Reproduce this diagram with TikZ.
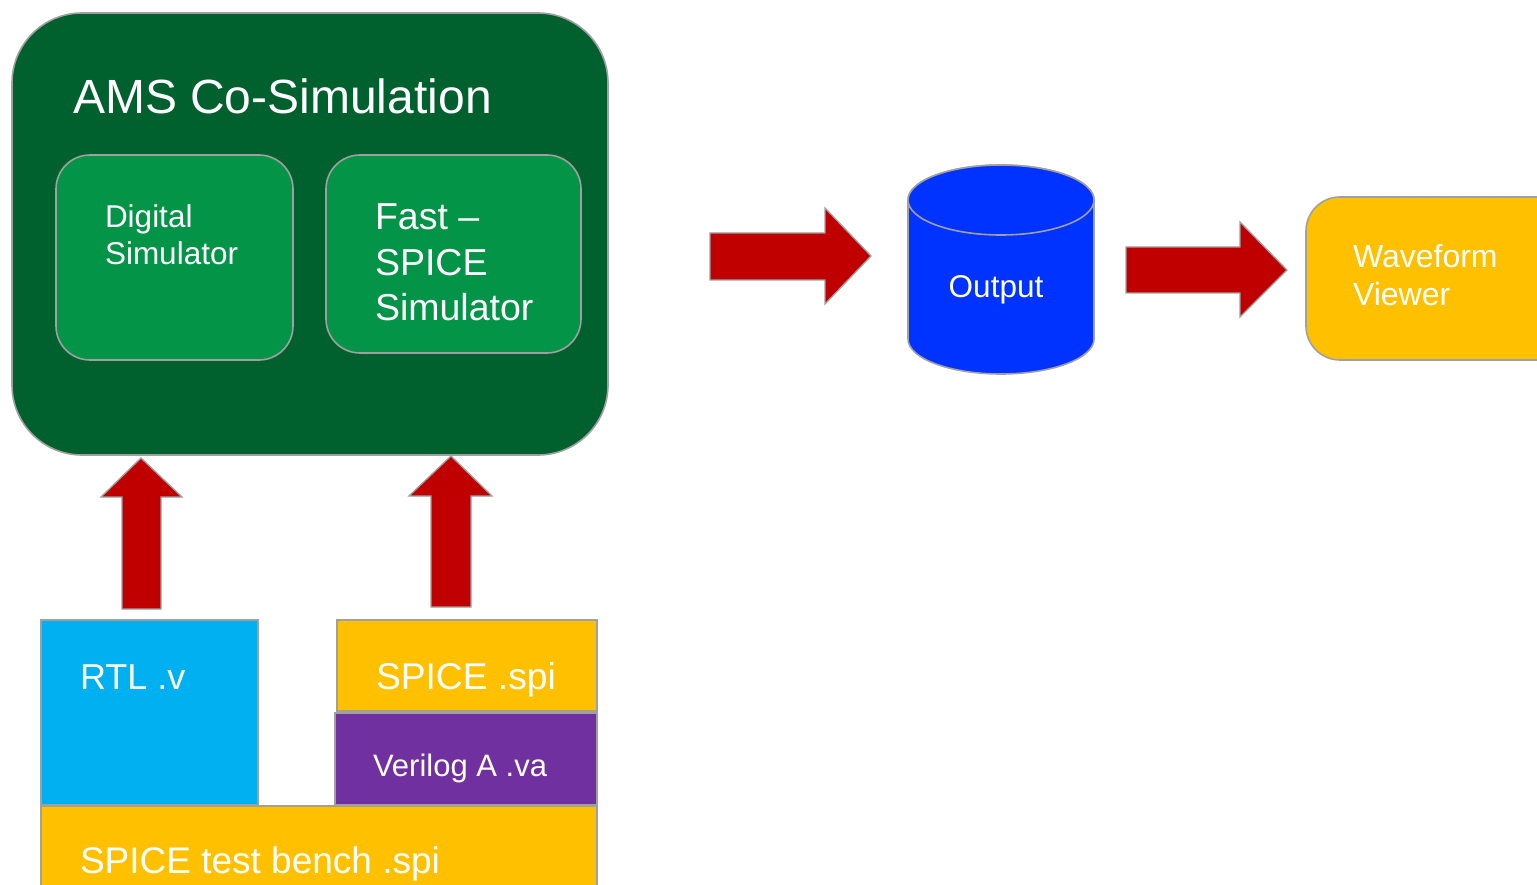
\documentclass[tikz,border=0pt]{standalone}
\usepackage{fontspec}
\setmainfont{Liberation Sans}
\definecolor{dkgreen}{RGB}{0,96,46}
\definecolor{ingreen}{RGB}{4,148,72}
\definecolor{bordergray}{RGB}{160,160,160}
\definecolor{arrred}{RGB}{192,0,0}
\definecolor{cylblue}{RGB}{0,51,255}
\definecolor{gold}{RGB}{255,192,0}
\definecolor{cyanbox}{RGB}{0,176,240}
\definecolor{purplebox}{RGB}{112,48,160}
\begin{document}
\begin{tikzpicture}[x=1pt,y=-1pt,
  edge/.style={draw=bordergray, line width=1.6pt},
  panel/.style={edge, anchor=north west, inner sep=0pt, outer sep=0pt},
  lbl/.style={text=white, anchor=base west, inner sep=0pt, outer sep=0pt, align=left},
  blockarrow/.style={fill=arrred, draw=bordergray, line width=1.3pt, line join=miter}]
\useasboundingbox (0,0) rectangle (1537,885);
\clip (0,0) rectangle (1537,885);
% main AMS box
\node[panel, fill=dkgreen, rounded corners=70pt, minimum width=596pt, minimum height=442pt] (ams) at (12,13) {};
\node[lbl, font=\fontsize{48}{56}\selectfont] (amst) at (73,114) {AMS Co-Simulation};
% inner boxes
\node[panel, fill=ingreen, rounded corners=34pt, minimum width=237pt, minimum height=205pt] (dig) at (56,155) {};
\node[lbl, font=\fontsize{31.5}{37}\selectfont] (digt) at (105,265) {Digital\\Simulator};
\node[panel, fill=ingreen, rounded corners=34pt, minimum width=255pt, minimum height=198pt] (fast) at (326,155) {};
\node[lbl, font=\fontsize{37.5}{45.5}\selectfont] (fastt) at (375,321) {Fast --\\SPICE\\Simulator};
% input files
\node[panel, fill=cyanbox, minimum width=217pt, minimum height=185pt] (rtl) at (41,620) {};
\node[lbl, font=\fontsize{36}{42}\selectfont] (rtlt) at (80,689) {RTL .v};
\node[panel, fill=gold, minimum width=260pt, minimum height=91pt] (spi) at (337,620) {};
\node[lbl, font=\fontsize{37.2}{42}\selectfont] (spit) at (376,689) {SPICE .spi};
\node[panel, fill=purplebox, minimum width=262pt, minimum height=92pt] (va) at (335,713) {};
\node[lbl, font=\fontsize{31}{37}\selectfont] (vat) at (373,776) {Verilog A .va};
\node[panel, fill=gold, minimum width=556pt, minimum height=100pt] (tb) at (41,806) {};
\node[lbl, font=\fontsize{37}{44}\selectfont] (tbt) at (80,873) {SPICE test bench .spi};
% output cylinder
\coordinate (cylc) at (1001,200);
\path[edge, fill=cylblue] (908,200) -- (908,339) arc[start angle=180, end angle=360, x radius=93pt, y radius=35pt] -- (1094,200) arc[start angle=0, end angle=180, x radius=93pt, y radius=35pt] -- cycle;
\draw[edge, fill=cylblue] (cylc) ellipse[x radius=93pt, y radius=35pt];
\node[lbl, anchor=base, font=\fontsize{31.5}{37}\selectfont] (outt) at (996,298) {Output};
% waveform viewer
\node[panel, fill=gold, rounded corners=34pt, minimum width=280pt, minimum height=163pt] (wave) at (1306,197) {};
\node[lbl, font=\fontsize{32}{38}\selectfont] (wavet) at (1353,306) {Waveform\\Viewer};
% block arrows
\draw[blockarrow] (122,609) -- (122,497) -- (101,497) -- (141,458) -- (182,497) -- (161,497) -- (161,609) -- cycle;
\draw[blockarrow] (431,607) -- (431,496) -- (409,496) -- (451,456) -- (492,496) -- (471,496) -- (471,607) -- cycle;
\draw[blockarrow] (710,233) -- (825,233) -- (825,208) -- (871,256) -- (825,304) -- (825,280) -- (710,280) -- cycle;
\draw[blockarrow] (1126,247) -- (1240,247) -- (1240,222) -- (1287,270) -- (1240,317) -- (1240,293) -- (1126,293) -- cycle;
\end{tikzpicture}
\end{document}
